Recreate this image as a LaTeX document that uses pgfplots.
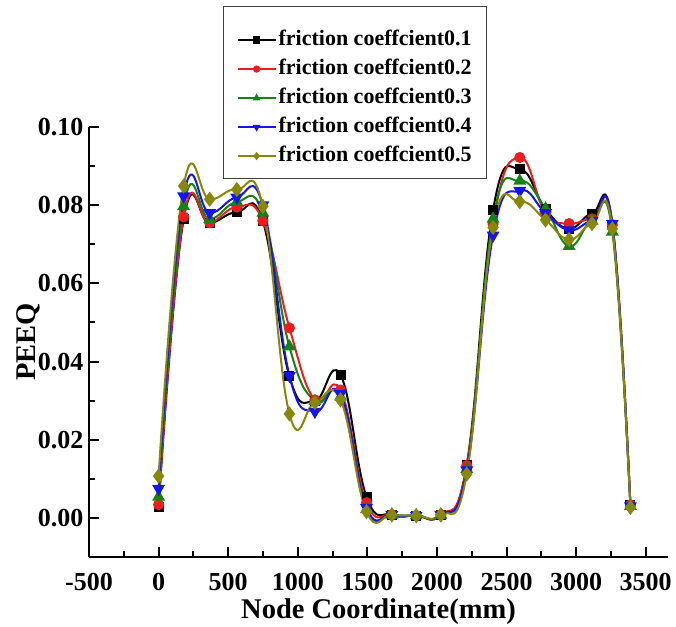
\documentclass[border=0pt]{standalone}
\usepackage{fontspec}
\setmainfont{Liberation Serif}
\usepackage{pgfplots}
\usepackage{pgfplotstable}
\pgfplotsset{compat=1.18}

\definecolor{cA}{RGB}{0,0,0}
\definecolor{cB}{RGB}{235,30,30}
\definecolor{cC}{RGB}{20,130,20}
\definecolor{cD}{RGB}{20,20,235}
\definecolor{cE}{RGB}{135,135,10}

% PEEQ along the node path for five friction coefficients
\pgfplotstableread{
x     c1      c2      c3      c4      c5
0     0.0027  0.0034  0.0054  0.0075  0.0107
180   0.0764  0.0770  0.0797  0.0823  0.0849
367   0.0754  0.0755  0.0764  0.0780  0.0815
562   0.0782  0.0795  0.0808  0.0820  0.0840
749   0.0759  0.0760  0.0780  0.0800  0.0797
940   0.0362  0.0486  0.0438  0.0364  0.0266
1123  0.0300  0.0302  0.0298  0.0272  0.0295
1307  0.0366  0.0327  0.0310  0.0317  0.0302
1494  0.0054  0.0039  0.0022  0.0026  0.0016
1676  0.0008  0.0008  0.0008  0.0008  0.0008
1851  0.0006  0.0006  0.0006  0.0006  0.0006
2028  0.0008  0.0008  0.0008  0.0008  0.0008
2214  0.0136  0.0134  0.0125  0.0122  0.0112
2403  0.0788  0.0752  0.0765  0.0723  0.0743
2595  0.0892  0.0922  0.0862  0.0837  0.0809
2780  0.0790  0.0780  0.0791  0.0780  0.0762
2949  0.0740  0.0753  0.0695  0.0736  0.0712
3114  0.0778  0.0765  0.0760  0.0760  0.0753
3260  0.0750  0.0750  0.0732  0.0753  0.0740
3390  0.0032  0.0033  0.0030  0.0030  0.0027
}\data

\begin{document}
\begin{tikzpicture}
\useasboundingbox (-89pt,-69pt) rectangle (587pt,557pt);
\begin{axis}[
  scale only axis, width=579pt, height=430pt,
  at={(0pt,0pt)}, anchor=south west,
  xmin=-500, xmax=3660, ymin=-0.01, ymax=0.10,
  axis x line*=bottom, axis y line*=left,
  xtick pos=left, ytick pos=left,
  axis line style={line width=2.2pt},
  xtick={-500,0,500,1000,1500,2000,2500,3000,3500},
  ytick={0,0.02,0.04,0.06,0.08,0.10},
  minor x tick num=1, minor y tick num=1,
  tick align=inside,
  major tick length=10pt, minor tick length=6pt,
  every tick/.style={line width=2pt, black},
  /pgf/number format/assume math mode=true,
  /pgf/number format/1000 sep={},
  tick label style={font=\fontsize{26}{26}\selectfont\bfseries},
  xticklabel style={inner sep=0pt, yshift=-16pt},
  yticklabel style={xshift=-2pt, /pgf/number format/.cd, fixed, fixed zerofill, precision=2},
  xlabel={Node Coordinate(mm)}, ylabel={PEEQ},
  label style={font=\fontsize{28.5}{28.5}\selectfont\bfseries},
  xlabel style={at={(axis description cs:0.5,-0.097)}, anchor=north, inner sep=0pt},
  ylabel style={at={(axis description cs:-0.1054,0.5)}, anchor=center, rotate=0},
  legend style={at={(axis description cs:0.2314,1.2814)}, anchor=north west,
    draw=black!75, line width=1.2pt, fill=white,
    font=\fontsize{22}{22}\selectfont\bfseries,
    inner xsep=13pt, inner ysep=11pt, row sep=6pt,
    nodes={inner sep=2pt, text height=15pt, text depth=4pt}},
  legend cell align=left,
  legend image code/.code={\draw[mark repeat=2, mark phase=2, mark size=2.6pt, line width=2pt]
    plot coordinates {(0pt,0pt) (19pt,0pt) (38pt,0pt)};},
  every axis plot/.append style={line width=2pt, smooth, tension=0.75},
]
% blank spacer row at the top of the legend box
\addlegendimage{empty legend}
\addlegendentry[text height=1pt, text depth=0pt]{}
\addplot[color=cA, mark=square*, mark size=4pt] table[x=x, y=c1] {\data};
\addlegendentry{friction coeffcient0.1}
\addplot[color=cB, mark=*, mark size=4.5pt] table[x=x, y=c2] {\data};
\addlegendentry{friction coeffcient0.2}
\addplot[color=cC, mark=triangle*, mark size=5.5pt] table[x=x, y=c3] {\data};
\addlegendentry{friction coeffcient0.3}
\addplot[color=cD, mark=triangle*, mark options={rotate=180}, mark size=5.5pt] table[x=x, y=c4] {\data};
\addlegendentry{friction coeffcient0.4}
\addplot[color=cE, mark=diamond*, mark size=6pt] table[x=x, y=c5] {\data};
\addlegendentry{friction coeffcient0.5}
\end{axis}
\end{tikzpicture}
\end{document}
